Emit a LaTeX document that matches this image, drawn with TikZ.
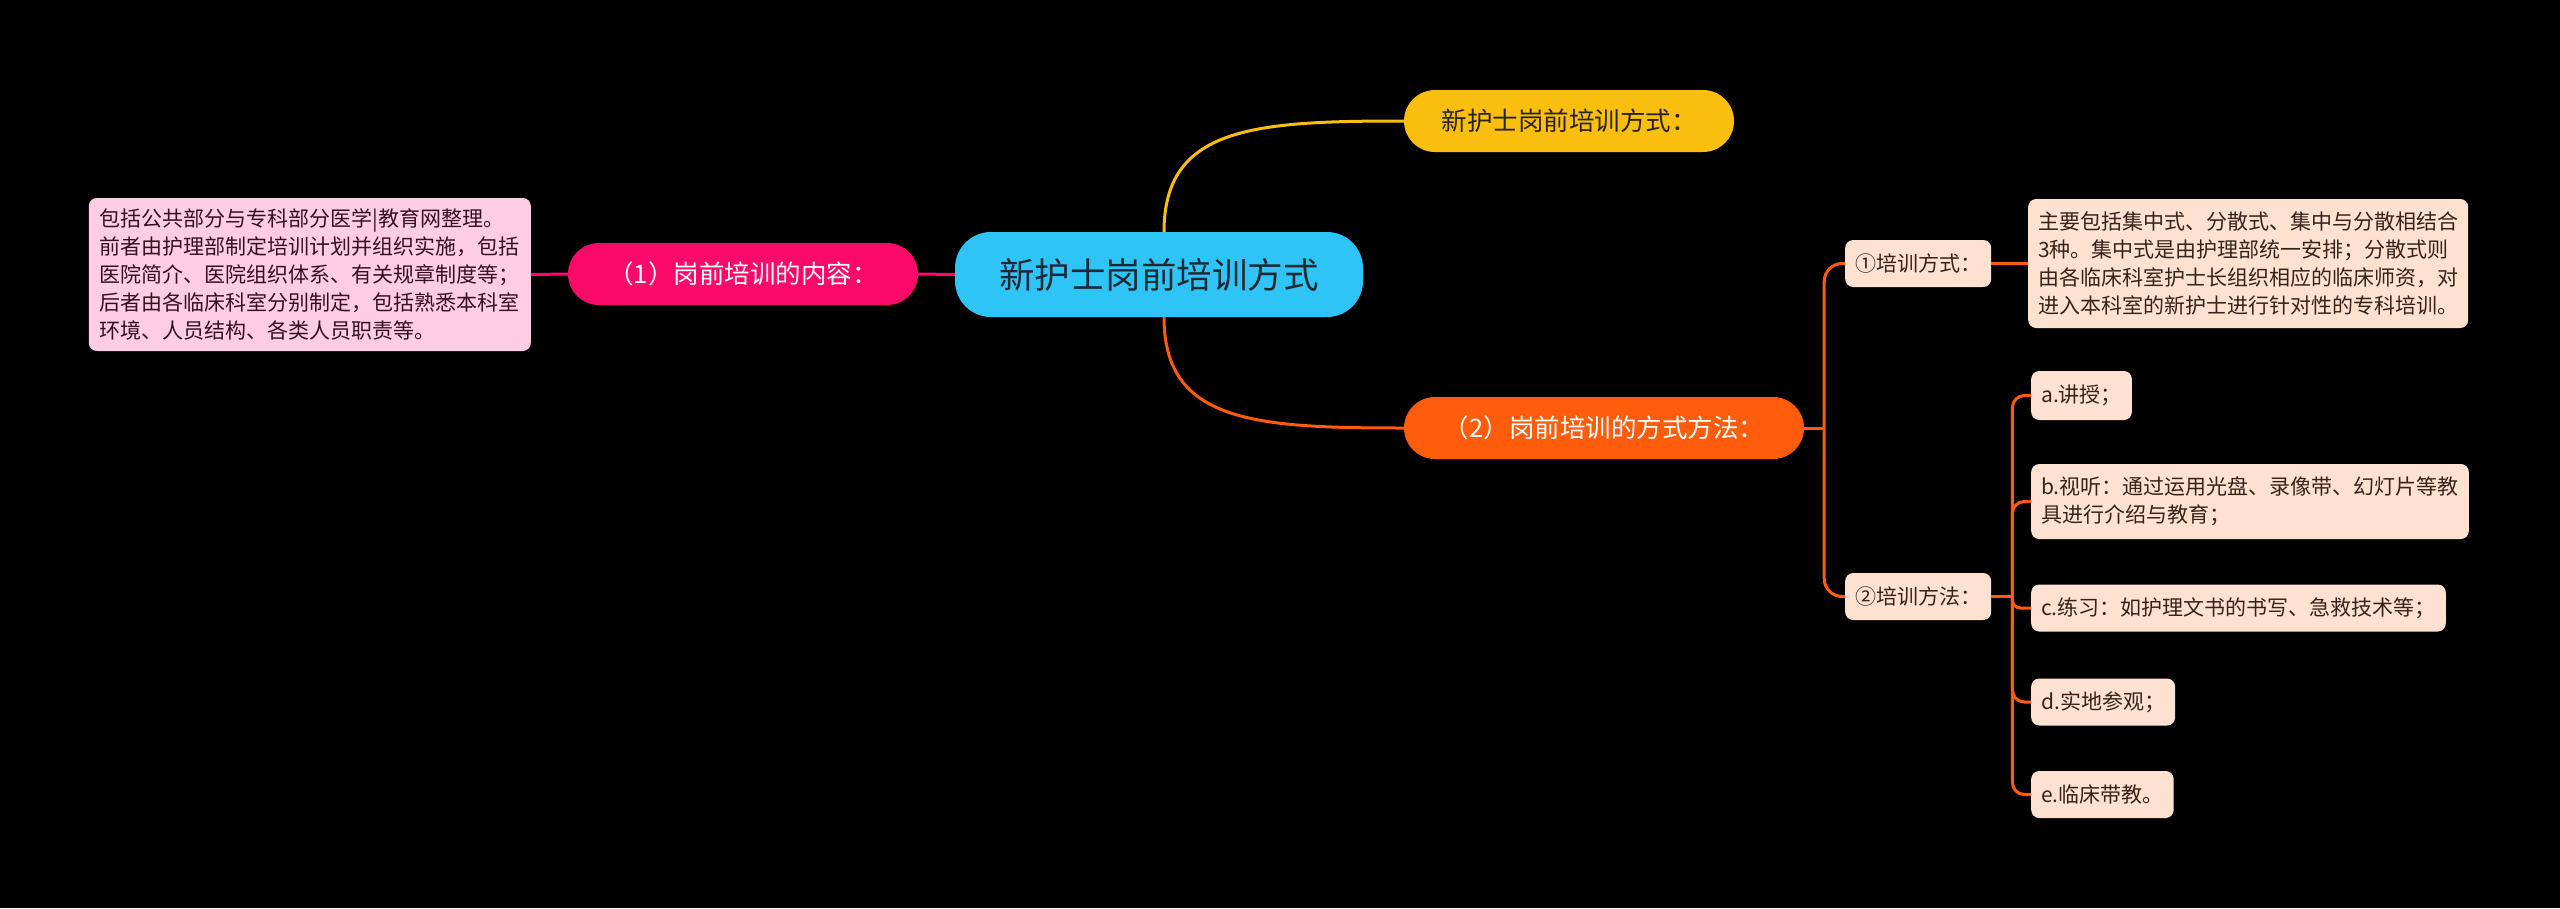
\documentclass[tikz,border=0pt]{standalone}
\usepackage{fontspec}
\setmainfont{Noto Sans CJK SC}
\definecolor{cRoot}{RGB}{46,196,246}
\definecolor{cRootT}{RGB}{30,40,50}
\definecolor{cYel}{RGB}{250,190,15}
\definecolor{cYelT}{RGB}{40,35,25}
\definecolor{cPink}{RGB}{252,10,105}
\definecolor{cPinkBox}{RGB}{255,205,226}
\definecolor{cPinkT}{RGB}{55,15,35}
\definecolor{cOr}{RGB}{255,92,12}
\definecolor{cPeach}{RGB}{255,225,210}
\definecolor{cPeachT}{RGB}{55,35,25}
\begin{document}
\begin{tikzpicture}[x=1pt,y=-1pt,
  root/.style={fill=cRoot, text=cRootT, rounded corners=36, minimum width=408, minimum height=85, inner sep=0, font=\fontsize{35.5}{40}\selectfont},
  pill/.style={rounded corners=31, minimum height=62, inner sep=0, font=\fontsize{25.5}{30}\selectfont},
  pbox/.style={fill=cPinkBox, text=cPinkT, rounded corners=8, align=left, inner xsep=11, inner ysep=0, font=\fontsize{21}{27.8}\selectfont},
  ebox/.style={fill=cPeach, text=cPeachT, rounded corners=8, align=left, inner xsep=10, inner ysep=0, minimum height=47, font=\fontsize{21}{27.8}\selectfont},
  yl/.style={draw=cYel, line width=3},
  pl/.style={draw=cPink, line width=3},
  ol/.style={draw=cOr, line width=3},
]
\useasboundingbox (0,0) rectangle (2560,908);
\fill[black] (0,0) rectangle (2560,908);

% nodes
\node[root] (root) at (1159,274.5) {新护士岗前培训方式};
\node[pill, fill=cYel, text=cYelT, minimum width=330] (top) at (1569,121) {新护士岗前培训方式：};
\node[pill, fill=cPink, text=white, minimum width=350] (left) at (743,274) {（1）岗前培训的内容：};
\node[pill, fill=cOr, text=white, minimum width=400] (bot) at (1604,428) {（2）岗前培训的方式方法：};

\node[pbox, anchor=east, minimum height=153] (lbox) at (531,274.5) {包括公共部分与专科部分医学|教育网整理。\\前者由护理部制定培训计划并组织实施，包括\\医院简介、医院组织体系、有关规章制度等；\\后者由各临床科室分别制定，包括熟悉本科室\\环境、人员结构、各类人员职责等。};

\node[ebox, anchor=west] (m1) at (1845,263.5) {①培训方式：};
\node[ebox, anchor=west] (m2) at (1845,596.5) {②培训方法：};
\node[ebox, anchor=west, minimum height=129] (m1box) at (2028,263.5) {主要包括集中式、分散式、集中与分散相结合\\3种。集中式是由护理部统一安排；分散式则\\由各临床科室护士长组织相应的临床师资，对\\进入本科室的新护士进行针对性的专科培训。};

\node[ebox, anchor=west, minimum height=49] (ca) at (2031,395.5) {a.讲授；};
\node[ebox, anchor=west, minimum height=75] (cb) at (2031,501.5) {b.视听：通过运用光盘、录像带、幻灯片等教\\具进行介绍与教育；};
\node[ebox, anchor=west] (cc) at (2031,608) {c.练习：如护理文书的书写、急救技术等；};
\node[ebox, anchor=west] (cd) at (2031,702) {d.实地参观；};
\node[ebox, anchor=west] (ce) at (2031,794.5) {e.临床带教。};

% connectors
\coordinate (rt) at ([xshift=5pt]root.north);
\coordinate (rb) at ([xshift=5pt]root.south);
\draw[yl] (rt) .. controls ++(0,-105) and ++(-150,0) .. (top.west);
\draw[ol] (rb) .. controls ++(0,105) and ++(-150,0) .. (bot.west);
\draw[pl] (root.west) -- (left.east);
\draw[pl] (left.west) -- (lbox.east);

\draw[ol] (bot.east) -- ++(20,0) coordinate (j1);
\draw[ol, rounded corners=18] (j1) |- (m1.west);
\draw[ol, rounded corners=18] (j1) |- (m2.west);
\draw[ol] (m1.east) -- (m1box.west);

\draw[ol] (m2.east) -- ++(21,0) coordinate (j2);
\draw[ol, rounded corners=12] (j2) |- (ca.west);
\draw[ol, rounded corners=12] (j2) |- (cb.west);
\draw[ol, rounded corners=8] (j2) |- (cc.west);
\draw[ol, rounded corners=12] (j2) |- (cd.west);
\draw[ol, rounded corners=12] (j2) |- (ce.west);
\end{tikzpicture}
\end{document}
